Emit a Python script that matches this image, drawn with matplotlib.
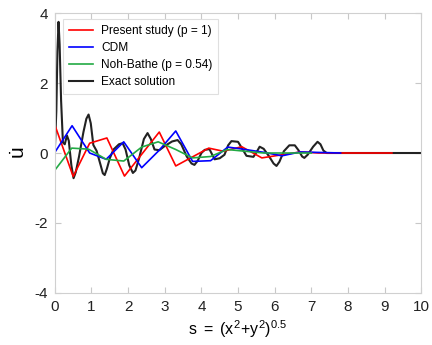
import matplotlib
matplotlib.use('Agg')
import matplotlib.pyplot as plt

plt.rcParams['font.family'] = ['Liberation Sans', 'DejaVu Sans']
plt.rcParams['mathtext.fontset'] = 'custom'
plt.rcParams['mathtext.rm'] = 'Liberation Sans'
plt.rcParams['mathtext.it'] = 'Liberation Sans'
plt.rcParams['axes.unicode_minus'] = False

# Present study (p = 1)
s_present = [0, 0.5, 0.95, 1.42, 1.9, 2.85, 3.3, 4.2, 4.6, 5.1, 5.65, 6.2, 6.7, 7.2, 9.2]
u_present = [0.8, -0.67, 0.28, 0.43, -0.66, 0.6, -0.37, 0.14, 0.05, 0.18, -0.14, -0.05, 0.03, 0.0, 0.0]

# CDM
s_cdm = [0, 0.47, 0.95, 1.4, 1.88, 2.37, 2.85, 3.3, 3.76, 4.25, 4.72, 5.2, 5.7, 6.2, 6.7, 7.8]
u_cdm = [0.02, 0.78, 0.0, -0.18, 0.32, -0.42, 0.08, 0.63, -0.24, -0.22, 0.17, 0.1, 0.02, -0.08, 0.03, 0.0]

# Noh-Bathe (p = 0.54)
s_noh = [0, 0.46, 0.92, 1.4, 1.88, 2.37, 2.82, 3.3, 3.76, 4.25, 4.7, 5.2, 5.7, 7.0]
u_noh = [-0.49, 0.14, 0.11, -0.18, -0.23, 0.17, 0.32, 0.1, -0.14, -0.1, 0.1, 0.05, 0.0, 0.0]

# Exact solution
s_exact = [0, 0.04, 0.07, 0.1, 0.13, 0.17, 0.22, 0.27, 0.33, 0.38, 0.45, 0.51, 0.57, 0.66,
           0.78, 0.86, 0.92, 0.98, 1.05, 1.14, 1.25, 1.31, 1.36, 1.42, 1.5, 1.6, 1.75, 1.85,
           1.93, 2.03, 2.13, 2.2, 2.3, 2.43, 2.53, 2.62, 2.72, 2.85, 3.0, 3.2, 3.35, 3.45,
           3.6, 3.73, 3.81, 3.9, 4.0, 4.09, 4.22, 4.36, 4.5, 4.63, 4.73, 4.82, 5.0, 5.1,
           5.23, 5.42, 5.52, 5.59, 5.7, 5.85, 5.97, 6.05, 6.13, 6.25, 6.4, 6.55, 6.65, 6.75,
           6.81, 6.9, 7.05, 7.17, 7.25, 7.33, 7.42, 10]
u_exact = [0.1, 1.2, 2.9, 3.75, 3.1, 1.5, 0.3, 0.25, 0.5, 0.35, -0.35, -0.72, -0.55, -0.1,
           0.6, 0.98, 1.1, 0.85, 0.23, 0.06, -0.35, -0.58, -0.63, -0.45, -0.15, 0.1, 0.25, 0.28,
           0.1, -0.35, -0.57, -0.5, -0.15, 0.4, 0.57, 0.4, 0.1, 0.08, 0.2, 0.33, 0.37, 0.25,
           -0.1, -0.3, -0.34, -0.22, 0.0, 0.09, 0.11, -0.18, -0.15, -0.05, 0.22, 0.34, 0.32, 0.15,
           -0.08, -0.11, 0.05, 0.18, 0.12, -0.1, -0.3, -0.37, -0.25, 0.05, 0.22, 0.22, 0.08, -0.1,
           -0.14, -0.05, 0.18, 0.32, 0.25, 0.07, 0.0, 0.0]

fig = plt.figure(figsize=(4.32, 3.45), dpi=100)
ax = fig.add_axes([0.127, 0.151, 0.848, 0.811])

l_exact, = ax.plot(s_exact, u_exact, color='#222222', lw=1.5, label='Exact solution')
l_present, = ax.plot(s_present, u_present, color='#ff0000', lw=1.2, label='Present study (p = 1)')
l_cdm, = ax.plot(s_cdm, u_cdm, color='#0000ff', lw=1.2, label='CDM')
l_noh, = ax.plot(s_noh, u_noh, color='#22aa44', lw=1.2, label='Noh-Bathe (p = 0.54)')

ax.set_xlim(0, 10)
ax.set_ylim(-4, 4)
ax.set_xticks(range(0, 11))
ax.set_yticks([-4, -2, 0, 2, 4])

for sp in ax.spines.values():
    sp.set_color('#d0d0d0')
    sp.set_linewidth(0.8)
ax.tick_params(direction='in', top=True, right=True, length=4, width=0.8,
               color='#c8c8c8', labelsize=11, labelcolor='#222222', pad=5)

ax.set_xlabel(r'$\mathregular{s\ =\ (x^2\!+\!y^2)^{0.5}}$', fontsize=11.5, labelpad=3)
ax.set_ylabel(r'$\mathregular{\dot{u}}$', fontsize=15, labelpad=4)

leg = ax.legend(handles=[l_present, l_cdm, l_noh, l_exact], loc='upper left',
                bbox_to_anchor=(0.022, 0.979), borderaxespad=0, fontsize=8.6,
                frameon=True, fancybox=False, handlelength=2.0, borderpad=0.5,
                labelspacing=0.42, handletextpad=0.7)
leg.get_frame().set_edgecolor('#d8d8d8')
leg.get_frame().set_linewidth(0.8)

fig.savefig('out.png', dpi=100)
